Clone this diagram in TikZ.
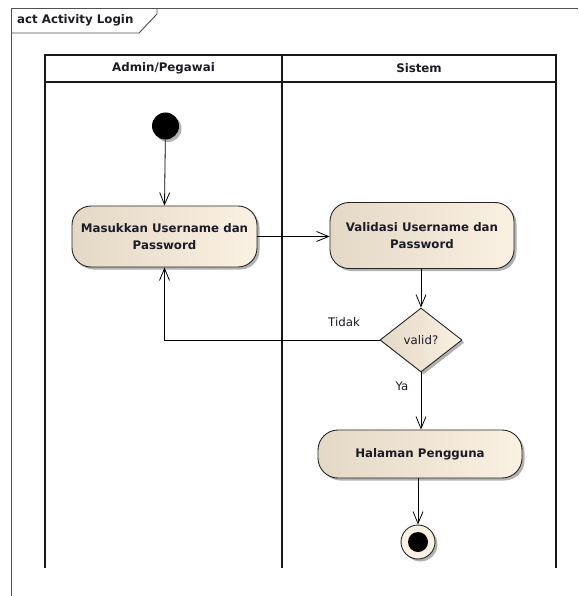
\documentclass[tikz,border=0pt]{standalone}
\usepackage{fontspec}
\setmainfont{DejaVu Sans}
\usetikzlibrary{arrows.meta,shadows,shapes.geometric}

\definecolor{fillL}{RGB}{228,216,198}
\definecolor{fillR}{RGB}{251,241,226}
\definecolor{framegray}{RGB}{80,80,80}
\definecolor{ink}{RGB}{28,28,40}

\tikzset{
  lbl/.style={font=\fontsize{11.8}{14}\selectfont, text=ink, inner sep=0pt},
  boldlbl/.style={font=\bfseries\fontsize{11.8}{14}\selectfont, text=ink, inner sep=0pt},
  shade/.style={drop shadow={shadow xshift=2.5pt, shadow yshift=-2.5pt, fill=black, opacity=0.3}},
  actbox/.style={shade, draw=black!85, line width=0.9pt, rounded corners=#1,
    left color=fillL, right color=fillR, align=center, inner sep=0pt,
    font=\bfseries\fontsize{11.8}{17}\selectfont, text=ink},
  decision/.style={shade, diamond, draw=black!85, line width=0.9pt,
    left color=fillL, right color=fillR, inner sep=0pt,
    minimum width=82pt, minimum height=64pt,
    font=\fontsize{11.8}{14}\selectfont, text=ink},
  flow/.style={draw=black, line width=0.8pt, -{Straight Barb[length=12pt,width=10pt,line width=0.8pt]}},
  lane/.style={draw=black!90, line width=1.3pt}
}

\begin{document}
\begin{tikzpicture}[x=1pt,y=-1pt]
  \useasboundingbox (0,0) rectangle (578,596);
  \fill[white] (0,0) rectangle (578,596);

  % diagram frame and its name tab
  \draw[framegray, line width=0.9pt] (11,596) -- (11,8) -- (578,8);
  \draw[framegray, line width=0.9pt] (11,33) -- (139,33) -- (157,14) -- (157,8);
  \node[boldlbl, anchor=west] (title) at (17,20.5) {act Activity Login};

  % swimlanes
  \draw[lane] (45,568) -- (45,55) -- (556,55) -- (556,568);
  \draw[lane] (45,82) -- (556,82);
  \draw[lane] (282,55) -- (282,568);
  \node[boldlbl] (laneA) at (163.5,68.5) {Admin/Pegawai};
  \node[boldlbl] (laneB) at (419,68.5) {Sistem};

  % activity nodes
  \node[shade, circle, fill=black, minimum size=27pt, inner sep=0pt] (start) at (165.5,126) {};
  \node[actbox=19pt, minimum width=185pt, minimum height=61pt] (masuk) at (164.5,236.5)
    {Masukkan Username dan\\Password};
  \node[actbox=19pt, minimum width=184pt, minimum height=66pt] (validasi) at (422,235.5)
    {Validasi Username dan\\Password};
  \node[decision] (valid) at (421,340) {valid?};
  \node[actbox=20pt, minimum width=204pt, minimum height=48pt] (halaman) at (420,454)
    {Halaman Pengguna};
  \node[shade, circle, draw=black!85, line width=0.9pt, fill=fillR, minimum size=34pt, inner sep=0pt] (end) at (418,542) {};
  \node[circle, fill=black, minimum size=20pt, inner sep=0pt] (endDot) at (end.center) {};

  % control flows
  \draw[flow] (start) -- (masuk.north);
  \draw[flow] (masuk.east) -- (masuk.east -| validasi.west);
  \draw[flow] (validasi.south -| valid.north) -- (valid.north);
  \draw[flow] (valid.west) -| (masuk.south);
  \draw[flow] (valid.south) -- (valid.south |- halaman.north);
  \draw[flow] (halaman.south -| end.north) -- (end.north);

  % guard labels
  \node[lbl] (tidak) at (344,322) {Tidak};
  \node[lbl] (ya) at (402,386) {Ya};
\end{tikzpicture}
\end{document}
